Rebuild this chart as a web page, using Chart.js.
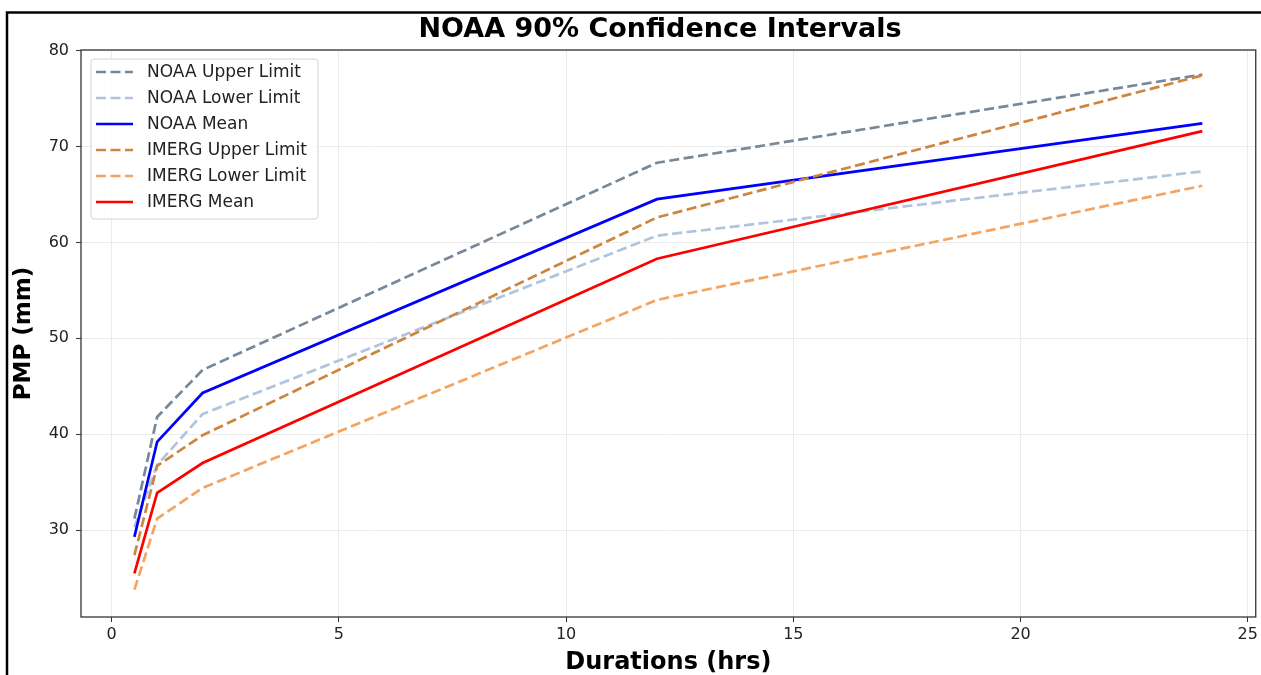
<!DOCTYPE html>
<html>
<head>
<meta charset="utf-8">
<script src="https://cdn.jsdelivr.net/npm/chart.js@4.4.1/dist/chart.umd.min.js"></script>
<style>
  body { margin: 0; background: #fff; }
  canvas { display: block; }
</style>
</head>
<body>
<canvas id="pmpChart" width="1261" height="675"></canvas>
<script>
var durations = [0.5, 1, 2, 12, 24];
var noaaUpper = [31.2, 41.8, 46.7, 68.3, 77.5];
var noaaLower = [30.3, 36.8, 42.1, 60.7, 67.4];
var noaaMean = [29.3, 39.2, 44.3, 64.5, 72.4];
var imergUpper = [27.4, 36.7, 39.9, 62.6, 77.4];
var imergLower = [23.8, 31.2, 34.4, 54.0, 65.9];
var imergMean = [25.5, 33.9, 37.0, 58.3, 71.6];

var xTicks = [0, 5, 10, 15, 20, 25];
var yTicks = [30, 40, 50, 60, 70, 80];

var font = "'DejaVu Sans', sans-serif";

function pts(vals) {
  return durations.map(function (d, i) { return { x: d, y: vals[i] }; });
}

function series(label, vals, color, dashed, order) {
  return {
    label: label,
    data: pts(vals),
    borderColor: color,
    backgroundColor: color,
    borderWidth: 2.7,
    borderDash: dashed ? [10, 4.5] : [],
    pointRadius: 0,
    tension: 0,
    fill: false,
    order: order,
  };
}

// frame, title, plot box and legend drawn on top of the chart
var extras = {
  id: "extras",
  afterDraw: function (chart) {
    var c = chart.ctx;
    var a = chart.chartArea;
    c.save();

    c.strokeStyle = "#000";
    c.lineWidth = 2.5;
    c.beginPath();
    c.moveTo(7, 675);
    c.lineTo(7, 12.5);
    c.lineTo(1261, 12.5);
    c.stroke();

    c.strokeStyle = "#333";
    c.lineWidth = 1.3;
    c.strokeRect(a.left, a.top, a.right - a.left, a.bottom - a.top);

    c.fillStyle = "#000";
    c.font = "bold 27px " + font;
    c.textAlign = "center";
    c.textBaseline = "middle";
    c.fillText("NOAA 90% Confidence Intervals", 660, 30);

    // legend
    var lx = 91, ly = 59, lw = 227, lh = 160;
    c.fillStyle = "rgba(255,255,255,0.85)";
    c.strokeStyle = "#d4d4d4";
    c.lineWidth = 1;
    c.beginPath();
    c.roundRect(lx, ly, lw, lh, 3);
    c.fill();
    c.stroke();

    c.font = "17px " + font;
    c.textAlign = "left";
    chart.data.datasets.forEach(function (ds, i) {
      var y = 72 + i * 26;
      c.strokeStyle = ds.borderColor;
      c.lineWidth = ds.borderWidth;
      c.setLineDash(ds.borderDash);
      c.beginPath();
      c.moveTo(96, y);
      c.lineTo(133, y);
      c.stroke();
      c.setLineDash([]);
      c.fillStyle = "#222";
      c.fillText(ds.label, 147, y + 1);
    });
    c.restore();
  },
};

var ctx = document.getElementById("pmpChart").getContext("2d");
var myChart = new Chart(ctx, {
  type: "line",
  data: {
    datasets: [
      series("NOAA Upper Limit", noaaUpper, "#778899", true, 6),
      series("NOAA Lower Limit", noaaLower, "#b0c4de", true, 5),
      series("NOAA Mean", noaaMean, "#0000ff", false, 4),
      series("IMERG Upper Limit", imergUpper, "#cd853f", true, 3),
      series("IMERG Lower Limit", imergLower, "#f4a460", true, 2),
      series("IMERG Mean", imergMean, "#ff0000", false, 1),
    ],
  },
  options: {
    responsive: false,
    animation: false,
    layout: {
      padding: { left: 0, top: 50, right: 4, bottom: 0 },
    },
    plugins: {
      legend: { display: false },
      tooltip: { enabled: false },
    },
    scales: {
      x: {
        type: "linear",
        min: -0.675,
        max: 25.175,
        afterBuildTicks: function (axis) {
          axis.ticks = xTicks.map(function (v) { return { value: v }; });
        },
        afterFit: function (axis) {
          axis.height = 58;
        },
        ticks: {
          color: "#222",
          padding: 3,
          font: { family: font, size: 16 },
        },
        grid: {
          color: "#ebebeb",
          tickColor: "#333",
          tickLength: 5,
        },
        border: { display: false },
        title: {
          display: true,
          text: "Durations (hrs)",
          color: "#000",
          font: { family: font, size: 24, weight: "bold", lineHeight: 1 },
          padding: { top: 0, bottom: 0 },
        },
      },
      y: {
        type: "linear",
        min: 20.95,
        max: 80.05,
        afterBuildTicks: function (axis) {
          axis.ticks = yTicks.map(function (v) { return { value: v }; });
        },
        afterFit: function (axis) {
          axis.width = 81;
        },
        ticks: {
          color: "#222",
          padding: 7,
          font: { family: font, size: 16 },
        },
        grid: {
          color: "#ebebeb",
          tickColor: "#333",
          tickLength: 5,
        },
        border: { display: false },
        title: {
          display: true,
          text: "PMP (mm)",
          color: "#000",
          font: { family: font, size: 23, weight: "bold", lineHeight: 1 },
          padding: { top: 13, bottom: 0 },
        },
      },
    },
  },
  plugins: [extras],
});
</script>
</body>
</html>
